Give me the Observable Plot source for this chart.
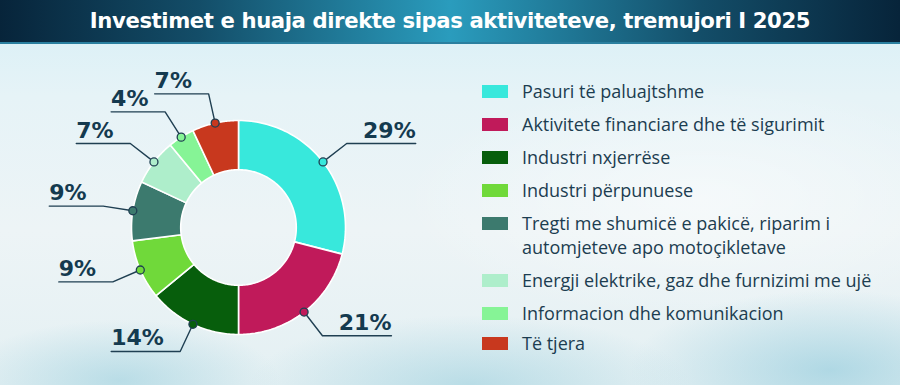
<!DOCTYPE html>
<html>
<head>
<meta charset="utf-8">
<script src="https://cdn.jsdelivr.net/npm/d3@7"></script>
<script src="https://cdn.jsdelivr.net/npm/@observablehq/plot@0.6"></script>
<style>
  html, body { margin: 0; padding: 0; }
  body { width: 900px; height: 385px; overflow: hidden; }
  #wrap {
    position: relative; width: 900px; height: 385px; overflow: hidden;
    background:
      radial-gradient(ellipse 160px 60px at 120px 380px, rgba(150,205,220,0.55), rgba(150,205,220,0) 100%),
      radial-gradient(ellipse 220px 70px at 470px 385px, rgba(150,205,220,0.55), rgba(150,205,220,0) 100%),
      radial-gradient(ellipse 200px 80px at 830px 370px, rgba(140,200,218,0.6), rgba(140,200,218,0) 100%),
      radial-gradient(ellipse 300px 120px at 700px 200px, rgba(255,255,255,0.5), rgba(255,255,255,0) 100%),
      linear-gradient(180deg, #d6eff6 0%, #e6f3f7 25%, #edf4f6 60%, #e4f0f3 100%);
  }
  #title {
    position: absolute; left: 0; top: 0; width: 900px; height: 42px;
    background: linear-gradient(90deg, #07243a 0%, #134d68 22%, #2a9cbd 50%, #134d68 78%, #07243a 100%);
    border-bottom: 2px solid #2a7f9f;
    color: #fff; font-family: "DejaVu Sans", sans-serif; font-weight: bold;
    font-size: 21.2px; line-height: 42px; text-align: center; letter-spacing: -0.4px;
  }
  #chart { position: absolute; left: 0; top: 44px; }
  #legend {
    position: absolute; left: 482px; top: 79px;
    font-family: "Open Sans", sans-serif; font-size: 18px; color: #1c3d50;
  }
  .item { display: flex; align-items: flex-start; margin-bottom: 9px; }
  .item:last-child { margin-top: -3px; }
  .sw { width: 26px; height: 13px; margin-top: 6px; margin-right: 14px; flex: none; }
  .lbl { line-height: 24px; }
</style>
</head>
<body>
<div id="wrap">
  <div id="title">Investimet e huaja direkte sipas aktiviteteve, tremujori I 2025</div>
  <div id="chart"></div>
  <div id="legend"></div>
</div>
<script>
// ---- data ----
const categories = [
  "Pasuri të paluajtshme",
  "Aktivitete financiare dhe të sigurimit",
  "Industri nxjerrëse",
  "Industri përpunuese",
  "Tregti me shumicë e pakicë, riparim i automjeteve apo motoçikletave",
  "Energji elektrike, gaz dhe furnizimi me ujë",
  "Informacion dhe komunikacion",
  "Të tjera"
];
const legendLines = [
  ["Pasuri të paluajtshme"],
  ["Aktivitete financiare dhe të sigurimit"],
  ["Industri nxjerrëse"],
  ["Industri përpunuese"],
  ["Tregti me shumicë e pakicë, riparim i", "automjeteve apo motoçikletave"],
  ["Energji elektrike, gaz dhe furnizimi me ujë"],
  ["Informacion dhe komunikacion"],
  ["Të tjera"]
];
const shares = [29, 21, 14, 9, 9, 7, 4, 7];
const colors = ["#38e8dc", "#c01a5a", "#075e0c", "#70d93a", "#3c7a6e", "#aeeecb", "#86f496", "#c8381e"];

// ---- geometry derived from data ----
const W = 460, H = 341;
const px = 107;               // pixels per unit radius
const cx = 238, cy = 183;     // donut centre in svg px
const rOuter = 1, rInner = 0.54, rElbow = 1.28;
const total = d3.sum(shares);
const pie = d3.pie().sort(null).value(d => d)(shares);

const polys = [];
const dots = [];
const leaders = [];
const labels = [];
pie.forEach((p, i) => {
  const cat = categories[i];
  const n = 60;
  for (let k = 0; k <= n; k++) {
    const a = p.startAngle + (p.endAngle - p.startAngle) * k / n;
    polys.push({cat, x: rOuter * Math.sin(a), y: rOuter * Math.cos(a)});
  }
  for (let k = n; k >= 0; k--) {
    const a = p.startAngle + (p.endAngle - p.startAngle) * k / n;
    polys.push({cat, x: rInner * Math.sin(a), y: rInner * Math.cos(a)});
  }
  const m = (p.startAngle + p.endAngle) / 2;
  const side = Math.sin(m) >= 0 ? 1 : -1;
  const txt = Math.round(shares[i] / total * 100) + "%";
  const len = (15 * txt.length + 24) / px;
  const d0 = {cat, x: rOuter * Math.sin(m), y: rOuter * Math.cos(m)};
  const e = {cat, x: rElbow * Math.sin(m), y: rElbow * Math.cos(m)};
  const end = {cat, x: e.x + side * len, y: e.y};
  dots.push(d0);
  leaders.push(d0, e, end);
  labels.push({cat, x: end.x, y: end.y, txt, anchor: side > 0 ? "end" : "start"});
});

const ink = "#143a4f";
const textOpts = {x: "x", y: "y", text: "txt", lineAnchor: "bottom", dy: -6,
  fill: ink, fontSize: 22, fontWeight: "bold", fontFamily: "DejaVu Sans"};
const chart = Plot.plot({
  width: W, height: H,
  margin: 0,
  style: {background: "transparent", overflow: "visible"},
  x: {domain: [-cx / px, (W - cx) / px], axis: null},
  y: {domain: [-(H - cy) / px, cy / px], axis: null},
  color: {domain: categories, range: colors},
  marks: [
    Plot.line(polys, {x: "x", y: "y", z: "cat", fill: "cat", stroke: "white", strokeWidth: 1.6, curve: "linear-closed"}),
    Plot.line(leaders, {x: "x", y: "y", z: "cat", stroke: "#1f3f52", strokeWidth: 1.4}),
    Plot.dot(dots, {x: "x", y: "y", fill: "cat", stroke: "#1f3f52", strokeWidth: 1.3, r: 4}),
    Plot.text(labels.filter(d => d.anchor === "end"), {...textOpts, textAnchor: "end"}),
    Plot.text(labels.filter(d => d.anchor === "start"), {...textOpts, textAnchor: "start"})
  ]
});
document.getElementById("chart").appendChild(chart);

// ---- legend ----
const leg = document.getElementById("legend");
categories.forEach((c, i) => {
  const it = document.createElement("div");
  it.className = "item";
  const sw = document.createElement("div");
  sw.className = "sw";
  sw.style.background = colors[i];
  const lb = document.createElement("div");
  lb.className = "lbl";
  lb.innerHTML = legendLines[i].join("<br>");
  it.appendChild(sw); it.appendChild(lb);
  leg.appendChild(it);
});
</script>
</body>
</html>
